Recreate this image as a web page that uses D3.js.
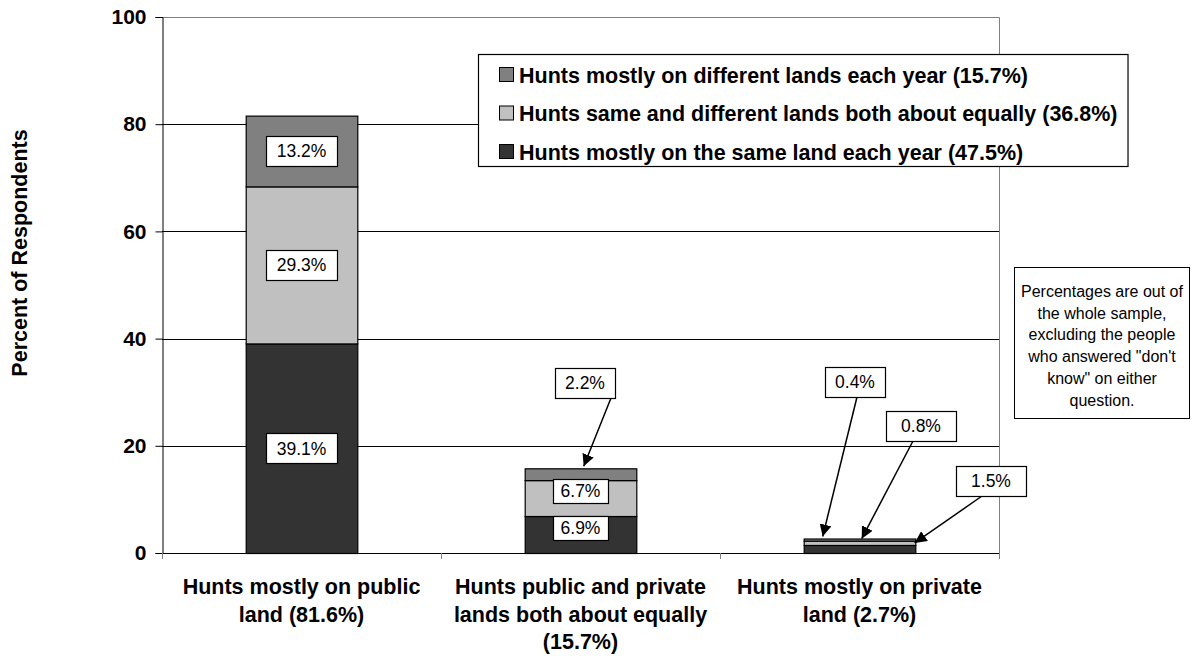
<!DOCTYPE html>
<html>
<head>
<meta charset="utf-8">
<script src="https://cdn.jsdelivr.net/npm/d3@7"></script>
<style>
  html, body { margin: 0; padding: 0; background: #fff; }
  svg { display: block; font-family: "Liberation Sans", Arial, sans-serif; }
</style>
</head>
<body>
<svg id="chart" width="1194" height="656"></svg>
<script>
// ---- Data ----
const categories = [
  ["Hunts mostly on public", "land (81.6%)"],
  ["Hunts public and private", "lands both about equally", "(15.7%)"],
  ["Hunts mostly on private", "land (2.7%)"]
];
const seriesNames = [
  "Hunts mostly on the same land each year (47.5%)",
  "Hunts same and different lands both about equally (36.8%)",
  "Hunts mostly on different lands each year (15.7%)"
];
const sameLand       = [39.1, 6.9, 1.5];
const bothEqually    = [29.3, 6.7, 0.8];
const differentLands = [13.2, 2.2, 0.4];
const yTicks = [0, 20, 40, 60, 80, 100];
const yTitle = "Percent of Respondents";
const noteLines = [
  "Percentages are out of",
  "the whole sample,",
  "excluding the people",
  "who answered \"don't",
  "know\" on either",
  "question."
];

// ---- Styles / layout ----
const seriesValues = [sameLand, bothEqually, differentLands];
const seriesColors = ["#333333", "#c0c0c0", "#808080"];
const plot = { left: 162, right: 999, top: 17, bottom: 553 };
const boldSize = 21.5;

const svg = d3.select("#chart");
const x = d3.scaleBand().domain(d3.range(categories.length))
  .range([plot.left, plot.right]).paddingInner(0.6).paddingOuter(0.3);
const y = d3.scaleLinear().domain([0, 100]).range([plot.bottom, plot.top]);

const stackRows = categories.map((c, i) => {
  const o = { i };
  seriesValues.forEach((s, k) => o["s" + k] = s[i]);
  return o;
});
const layers = d3.stack().keys(seriesValues.map((s, k) => "s" + k))(stackRows);

// gridlines
svg.append("g").selectAll("line").data(yTicks.filter(t => t > 0 && t < 100)).join("line")
  .attr("x1", plot.left).attr("x2", plot.right)
  .attr("y1", d => Math.round(y(d)) + 0.5).attr("y2", d => Math.round(y(d)) + 0.5)
  .attr("stroke", "#000").attr("stroke-width", 1);

// plot border (top & right) gray
svg.append("path")
  .attr("d", `M${plot.left},${plot.top + 0.5}H${plot.right + 0.5}V${plot.bottom}`)
  .attr("fill", "none").attr("stroke", "#808080").attr("stroke-width", 1);

// y axis
const yAxis = d3.axisLeft(y).tickValues(yTicks).tickSize(7).tickPadding(9).tickFormat(d3.format("d"));
const gy = svg.append("g").attr("transform", `translate(${plot.left + 0.5},0)`).call(yAxis);
gy.select(".domain").attr("stroke", "#000");
gy.selectAll(".tick line").attr("stroke", "#000");
gy.selectAll(".tick text").attr("font-size", 21).attr("font-weight", "bold").attr("fill", "#000")
  .attr("font-family", "Liberation Sans, Arial, sans-serif");

// bars
svg.append("g").selectAll("g").data(layers).join("g")
  .attr("fill", (d, k) => seriesColors[k])
  .selectAll("rect").data(d => d).join("rect")
  .attr("x", (d, i) => x(i) + 0.5)
  .attr("width", x.bandwidth())
  .attr("y", d => y(d[1]) + 0.5)
  .attr("height", d => y(d[0]) - y(d[1]))
  .attr("stroke", "#000").attr("stroke-width", 1.2);

// x axis
svg.append("line").attr("x1", plot.left).attr("x2", plot.right + 0.5)
  .attr("y1", plot.bottom + 0.5).attr("y2", plot.bottom + 0.5).attr("stroke", "#000");
const catEdges = d3.range(categories.length + 1).map(i => plot.left + i * (plot.right - plot.left) / categories.length);
svg.append("g").selectAll("line").data(catEdges).join("line")
  .attr("x1", d => d + 0.5).attr("x2", d => d + 0.5)
  .attr("y1", plot.bottom).attr("y2", plot.bottom + 6).attr("stroke", "#808080");

// category labels
const xl = svg.append("g").selectAll("text").data(categories).join("text")
  .attr("text-anchor", "middle").attr("font-size", boldSize).attr("font-weight", "bold")
  .attr("x", (d, i) => x(i) + x.bandwidth() / 2);
xl.selectAll("tspan").data(d => d).join("tspan")
  .attr("x", function() { return this.parentNode.getAttribute("x"); })
  .attr("y", (d, j) => 594 + j * 27.5)
  .text(d => d);

// y title
svg.append("text").attr("transform", `translate(21,253) rotate(-90)`)
  .attr("text-anchor", "middle").attr("dominant-baseline", "middle")
  .attr("font-size", boldSize).attr("font-weight", "bold").text(yTitle);

// ---- data labels ----
// placement of each value label (series k, category i); arrows point to the segment top
const labelLayout = [
  { k: 0, i: 0, w: 71, h: 30 }, { k: 1, i: 0, w: 71, h: 30 }, { k: 2, i: 0, w: 71, h: 30 },
  { k: 0, i: 1, w: 55, h: 24, dy: -7 }, { k: 1, i: 1, w: 55, h: 24, dy: -7 },
  { k: 2, i: 1, w: 60, h: 30, cx: 585, cy: 383, ax: 611, ay: 398, tipDx: 59 },
  { k: 2, i: 2, w: 60, h: 30, cx: 855, cy: 382, ax: 857, ay: 397, tipDx: 19 },
  { k: 1, i: 2, w: 70, h: 30, cx: 921, cy: 426, ax: 913, ay: 441, tipDx: 58 },
  { k: 0, i: 2, w: 70, h: 30, cx: 991, cy: 481, ax: 982, ay: 496, tipDx: 111 }
];
const fmt = v => v.toFixed(1) + "%";

svg.append("defs").append("marker").attr("id", "arrow")
  .attr("viewBox", "0 0 10 10").attr("refX", 10).attr("refY", 5)
  .attr("markerWidth", 12).attr("markerHeight", 12).attr("markerUnits", "userSpaceOnUse")
  .attr("orient", "auto")
  .append("path").attr("d", "M0,0L10,5L0,10z").attr("fill", "#000");

const lab = svg.append("g");
labelLayout.forEach(L => {
  const seg = layers[L.k][L.i];
  const val = seriesValues[L.k][L.i];
  let cx = L.cx, cy = L.cy;
  if (cx === undefined) { cx = x(L.i) + x.bandwidth() / 2; cy = (y(seg[0]) + y(seg[1])) / 2 + (L.dy || 0); }
  if (L.ax !== undefined) {
    const tipX = x(L.i) + L.tipDx;
    const tipY = y(seg[1]) - 2;
    lab.append("line").attr("x1", L.ax).attr("y1", L.ay).attr("x2", tipX).attr("y2", tipY)
      .attr("stroke", "#000").attr("stroke-width", 1.5).attr("marker-end", "url(#arrow)");
  }
  lab.append("rect").attr("x", Math.round(cx - L.w / 2) + 0.5).attr("y", Math.round(cy - L.h / 2) + 0.5)
    .attr("width", L.w).attr("height", L.h).attr("fill", "#fff").attr("stroke", "#000").attr("stroke-width", 1.2);
  lab.append("text").attr("x", cx).attr("y", cy + 6.3).attr("text-anchor", "middle")
    .attr("font-size", 17.5).text(fmt(val));
});

// ---- legend ----
const leg = svg.append("g");
const legBox = leg.append("rect").attr("x", 478.5).attr("y", 54.5).attr("height", 112)
  .attr("fill", "#fff").attr("stroke", "#000").attr("stroke-width", 1.2);
const legOrder = [2, 1, 0];
let maxW = 0;
legOrder.forEach((k, r) => {
  const cy = 75 + r * 38.5;
  leg.append("rect").attr("x", 499.5).attr("y", cy - 7.5).attr("width", 14).attr("height", 14)
    .attr("fill", seriesColors[k]).attr("stroke", "#000");
  const t = leg.append("text").attr("x", 519).attr("y", cy + 7.5).attr("font-size", boldSize).attr("font-weight", "bold")
    .text(seriesNames[k]);
  maxW = Math.max(maxW, t.node().getComputedTextLength());
});
legBox.attr("width", 519 + maxW + 10 - 478);

// ---- note ----
const note = svg.append("g");
note.append("rect").attr("x", 1014.5).attr("y", 267.5).attr("width", 175).attr("height", 151)
  .attr("fill", "#fff").attr("stroke", "#000");
note.append("text").attr("text-anchor", "middle").attr("font-size", 16)
  .selectAll("tspan").data(noteLines).join("tspan")
  .attr("x", 1102).attr("y", (d, j) => 297 + j * 21.7).text(d => d);
</script>
</body>
</html>
